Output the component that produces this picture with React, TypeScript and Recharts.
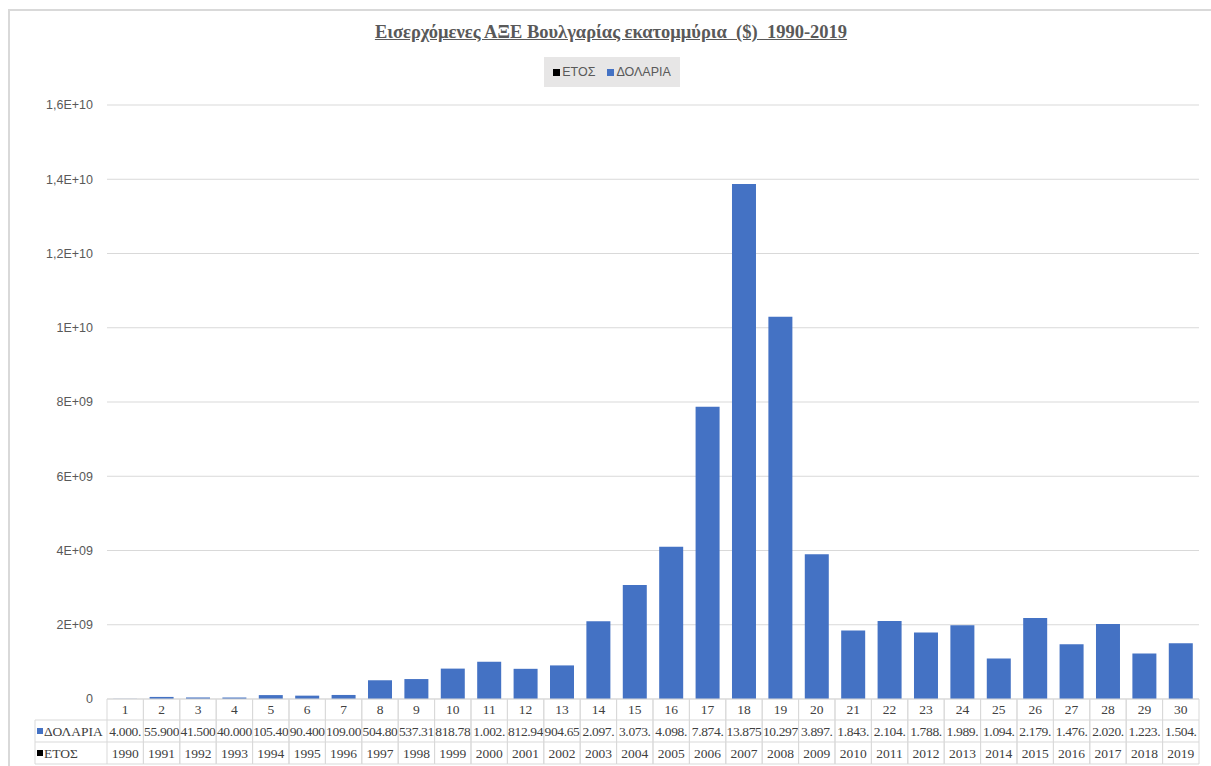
import { BarChart, Bar, XAxis, YAxis, CartesianGrid, Legend } from "recharts"

const categories = [
  1, 2, 3, 4, 5, 6, 7, 8, 9, 10, 11, 12, 13, 14, 15, 16, 17, 18, 19, 20, 21,
  22, 23, 24, 25, 26, 27, 28, 29, 30,
]

const years = [
  1990, 1991, 1992, 1993, 1994, 1995, 1996, 1997, 1998, 1999, 2000, 2001,
  2002, 2003, 2004, 2005, 2006, 2007, 2008, 2009, 2010, 2011, 2012, 2013,
  2014, 2015, 2016, 2017, 2018, 2019,
]

const dollars = [
  4000000, 55900000, 41500000, 40000000, 105400000, 90400000, 109000000,
  504800000, 537310000, 818780000, 1002000000, 812940000, 904650000,
  2097000000, 3073000000, 4098000000, 7874000000, 13875000000, 10297000000,
  3897000000, 1843000000, 2104000000, 1788000000, 1989000000, 1094000000,
  2179000000, 1476000000, 2020000000, 1223000000, 1504000000,
]

const yTicks = [0, 2e9, 4e9, 6e9, 8e9, 1e10, 1.2e10, 1.4e10, 1.6e10]

const TITLE = "Εισερχόμενες ΑΞΕ Βουλγαρίας εκατομμύρια  ($)  1990-2019"
const YEAR_NAME = "ΕΤΟΣ"
const USD_NAME = "ΔΟΛΑΡΙΑ"

const W = 1211
const H = 766
const LEFT = 107
const RIGHT = 12
const CELL_W = (W - LEFT - RIGHT) / categories.length
const ROW_H = [21, 22, 22]
const LINE = "#d9d9d9"
const TXT = "#404040"
const BLUE = "#4472c4"
const SERIF = "'Liberation Serif', 'Times New Roman', serif"
const SANS = "'Liberation Sans', Arial, sans-serif"

const data = categories.map((c, i) => ({
  cat: c,
  year: years[i],
  usd: dollars[i],
}))

// excel style "1,2E+10"
function sci(v: number) {
  if (v === 0) return "0"
  const e = Math.floor(Math.log10(v))
  const m = Math.round((v / Math.pow(10, e)) * 10) / 10
  return `${String(m).replace(".", ",")}E+${String(e).padStart(2, "0")}`
}

// cell text is cut like excel does when the column is too narrow
function cellText(v: number) {
  return String(v).replace(/\B(?=(\d{3})+(?!\d))/g, ".").slice(0, 6)
}

function TableTick(props: any) {
  const { x, y, index } = props
  const l = x - CELL_W / 2
  const r = x + CELL_W / 2
  const r1 = y + ROW_H[0]
  const r2 = r1 + ROW_H[1]
  const r3 = r2 + ROW_H[2]
  const labelX = 35
  return (
    <g fontFamily={SERIF} fontSize={13.5} fill={TXT}>
      <line x1={l} x2={l} y1={y} y2={r3} stroke={LINE} />
      <line x1={r} x2={r} y1={y} y2={r3} stroke={LINE} />
      <line x1={l} x2={r} y1={r1} y2={r1} stroke={LINE} />
      <line x1={l} x2={r} y1={r2} y2={r2} stroke={LINE} />
      <line x1={l} x2={r} y1={r3} y2={r3} stroke={LINE} />
      <text x={x} y={y + 15} textAnchor="middle">
        {categories[index]}
      </text>
      <text x={x} y={r1 + 16} textAnchor="middle" letterSpacing={-0.35}>
        {cellText(dollars[index])}
      </text>
      <text x={x} y={r2 + 16} textAnchor="middle">
        {years[index]}
      </text>
      {index === 0 && (
        <g>
          <line x1={labelX} x2={l} y1={r1} y2={r1} stroke={LINE} />
          <line x1={labelX} x2={l} y1={r2} y2={r2} stroke={LINE} />
          <line x1={labelX} x2={l} y1={r3} y2={r3} stroke={LINE} />
          <line x1={labelX} x2={labelX} y1={r1} y2={r3} stroke={LINE} />
          <rect x={labelX + 2} y={r1 + 8} width={6} height={6} fill={BLUE} />
          <text x={labelX + 9} y={r1 + 16}>
            {USD_NAME}
          </text>
          <rect x={labelX + 2} y={r2 + 8} width={6} height={6} fill="#000" />
          <text x={labelX + 9} y={r2 + 16}>
            {YEAR_NAME}
          </text>
        </g>
      )}
    </g>
  )
}

function LegendBox() {
  const items = [
    { name: YEAR_NAME, color: "#000" },
    { name: USD_NAME, color: BLUE },
  ]
  return (
    <div
      style={{
        background: "#e7e6e6",
        width: 136,
        height: 30,
        display: "flex",
        alignItems: "center",
        justifyContent: "center",
        gap: 12,
        fontFamily: SANS,
        fontSize: 12.5,
        color: "#595959",
      }}
    >
      {items.map((it) => (
        <span key={it.name} style={{ display: "flex", alignItems: "center" }}>
          <span
            style={{
              width: 7,
              height: 7,
              background: it.color,
              marginRight: 2,
              display: "inline-block",
            }}
          />
          {it.name}
        </span>
      ))}
    </div>
  )
}

export default function App() {
  return (
    <div
      style={{
        position: "absolute",
        left: 0,
        top: 0,
        width: W,
        height: H,
        overflow: "hidden",
        background: "#fff",
      }}
    >
      <div
        style={{
          position: "absolute",
          left: 8,
          top: 9,
          width: W + 20,
          height: H + 20,
          borderLeft: `2px solid ${LINE}`,
          borderTop: `2px solid ${LINE}`,
        }}
      />
      <div
        style={{
          position: "absolute",
          top: 22,
          left: 0,
          width: 1222,
          textAlign: "center",
          fontFamily: SERIF,
          fontWeight: "bold",
          fontSize: 18.5,
          color: "#595959",
          textDecoration: "underline",
          whiteSpace: "pre",
        }}
      >
        {TITLE}
      </div>
      <BarChart
        width={W}
        height={H}
        data={data}
        margin={{ top: 105, right: RIGHT, bottom: 0, left: 0 }}
        barCategoryGap="17%"
        style={{ position: "absolute", left: 0, top: 0 }}
      >
        <CartesianGrid vertical={false} stroke={LINE} />
        <YAxis
          width={LEFT}
          domain={[0, 1.6e10]}
          ticks={yTicks}
          tickFormatter={sci}
          axisLine={false}
          tickLine={false}
          tickSize={0}
          tickMargin={14}
          tick={{ fontFamily: SANS, fontSize: 12.5, fill: "#595959" }}
        />
        <XAxis
          dataKey="cat"
          height={67}
          interval={0}
          axisLine={{ stroke: LINE }}
          tickLine={false}
          tickSize={0}
          tickMargin={0}
          tick={<TableTick />}
        />
        <Legend
          layout="horizontal"
          verticalAlign="middle"
          content={() => <LegendBox />}
          wrapperStyle={{ top: 57, left: 544, width: 136 }}
        />
        <Bar
          dataKey="year"
          name={YEAR_NAME}
          stackId="a"
          fill="#000"
          isAnimationActive={false}
        />
        <Bar
          dataKey="usd"
          name={USD_NAME}
          stackId="a"
          fill={BLUE}
          isAnimationActive={false}
        />
      </BarChart>
    </div>
  )
}
